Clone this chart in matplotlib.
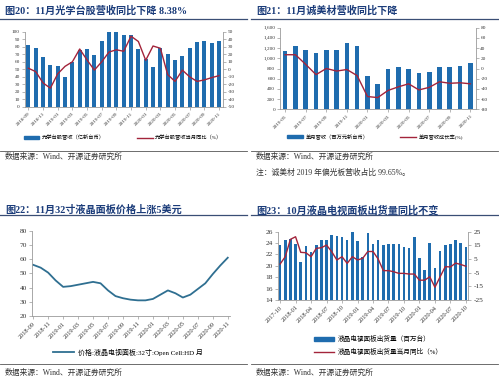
import matplotlib
matplotlib.use('Agg')
import matplotlib.pyplot as plt
from matplotlib.patches import Patch
from matplotlib.lines import Line2D
from matplotlib.ticker import FuncFormatter
import numpy as np

plt.rcParams['font.family'] = ['Liberation Serif', 'Noto Sans CJK SC', 'DejaVu Sans']
plt.rcParams['axes.unicode_minus'] = False

# ---------------- data ----------------
# Chart 1: optical stocks revenue (2018-09 .. 2020-11)
c1_ticks = ['2018-09', '2018-11', '2019-01', '2019-03', '2019-05', '2019-07', '2019-09',
            '2019-11', '2020-01', '2020-03', '2020-05', '2020-07', '2020-09', '2020-11']
c1_revenue = [82, 78, 66, 56, 55, 40, 60, 76, 77, 69, 88, 100, 100, 96, 95, 77, 64,
              53, 78, 70, 63, 68, 79, 86, 88, 85, 87]
c1_yoy = [1.5, -3, -18, -25, -6, 4, 10, 27, 12.5, -1, 10, 23, 26, 24, 44, 37, 12,
          31, 28, -7, -16, -1, -10, -16, -14, -11, -8.38]
c1_labels = ['光学台股营收（亿新台币）', '光学台股营收当月同比（%）']

# Chart 2: 诚美材 monthly revenue (2019-05 .. 2020-11)
c2_ticks = ['2019-05', '2019-07', '2019-09', '2019-11', '2020-01', '2020-03', '2020-05',
            '2020-07', '2020-09', '2020-11']
c2_revenue = [1150, 1240, 1160, 1100, 1170, 1160, 1300, 1250, 650, 500, 800, 830, 800,
              710, 730, 820, 820, 850, 900]
c2_yoy = [27, 27, 8, -12, 0, -5, -2, -14, -55, -57, -43, -36, -30, -42, -37, -26, -29,
          -28, -30]
c2_labels = ['单月营收（百万元新台币）', '单月营收成长率(%)']

# Chart 3: 32" open cell panel price (2018-09 .. 2020-11)
c3_ticks = c1_ticks
c3_price = [56, 54, 50.5, 45, 40.5, 41, 42, 43, 44, 43, 38, 34, 32.5, 31.5, 31, 31,
            32, 35, 38, 36, 33, 35, 39, 43, 49.5, 55.5, 61]
c3_label = '价格:液晶电视面板:32寸:Open Cell:HD 月'

# Chart 4: LCD TV panel shipments (2017-10 .. 2020-10)
c4_ticks = ['2017-10', '2018-01', '2018-04', '2018-07', '2018-10', '2019-01', '2019-04',
            '2019-07', '2019-10', '2020-01', '2020-04', '2020-07', '2020-10']
c4_ship = [23.6, 24.5, 24.7, 23.8, 20.6, 23.5, 22.5, 23.6, 24.6, 24.6, 25.4, 25.2, 25.0,
           24.6, 26.0, 24.4, 21.5, 25.8, 23.8, 24.5, 23.6, 23.8, 23.9, 23.9, 23.3, 23.1,
           25.0, 21.3, 19.2, 24.0, 19.7, 22.6, 23.6, 23.8, 24.6, 24.1, 23.3]
c4_yoy = [1.3, 6.7, 19.4, 21.3, 9.9, 9.6, 6.7, 12.8, 13.3, 15.2, 10.4, 4.3, 6.7, 1.8,
          6.7, 4.3, 5.5, 10.5, 10.5, 5, -3.5, -3.5, -4.3, -5.5, -5.5, -6, -6, -10.5,
          -10.5, -8, -15.7, -8, -0.6, -0.8, 2, 1, -0.3]
c4_labels = ['液晶电视面板出货量（百万台）', '液晶电视面板出货量当月同比（%）']

titles = ['图20：11月光学台股营收同比下降 8.38%', '图21：11月诚美材营收同比下降',
          '图22：11月32寸液晶面板价格上涨5美元', '图23：10月液晶电视面板出货量同比不变']
source = '数据来源：Wind、开源证券研究所'
note = '注：诚美材 2019 年偏光板营收占比 99.65%。'

# ---------------- style ----------------
W, H = 499, 380
fig = plt.figure(figsize=(W / 100, H / 100), dpi=100)
BLUE = '#1f6cae'
RED = '#a3243b'
TEAL = '#2f6f91'
TITLE_C = '#1b3c7a'
SPINE = '#9a9a9a'
TXT = '#333333'


def fx(x):
    return x / W


def fy(y):
    return 1 - y / H


def ax_px(x0, y0, x1, y1):
    return fig.add_axes([x0 / W, 1 - y1 / H, (x1 - x0) / W, (y1 - y0) / H])


def style(ax, fs, left=True, right=False, bottom=True):
    for s in ['top', 'right', 'left', 'bottom']:
        ax.spines[s].set_visible(False)
    for s, v in (('left', left), ('right', right), ('bottom', bottom)):
        if v:
            ax.spines[s].set_visible(True)
            ax.spines[s].set_color(SPINE)
            ax.spines[s].set_linewidth(0.6)
    ax.tick_params(labelsize=fs, length=2, width=0.5, color=SPINE, pad=1.5, labelcolor=TXT)
    ax.set_facecolor('none')


def xlabels(ax, pos, labels, fs):
    ax.set_xticks(pos)
    ax.set_xticklabels(labels, rotation=45, ha='right', rotation_mode='anchor', fontsize=fs)


def hline(x0, x1, y, color, lw):
    fig.add_artist(Line2D([fx(x0), fx(x1)], [fy(y), fy(y)], color=color, lw=lw,
                          transform=fig.transFigure))


# titles, rules, sources
for (tx, ty) in [(5, 11), (256, 11), (5, 210), (256, 210)]:
    pass
tpos = [(5, 11), (256, 11), (5, 210), (256, 210)]
for t, (tx, ty) in zip(titles, tpos):
    fig.text(fx(tx), fy(ty), t, fontsize=7.3, fontweight='bold', color=TITLE_C,
             va='center', ha='left')
hline(0, 247, 18.8, '#3a4e75', 0.9)
hline(251, 498, 18.8, '#3a4e75', 0.9)
hline(0, 247, 215.3, '#3a4e75', 0.9)
hline(251, 498, 215.3, '#3a4e75', 0.9)
hline(0, 247, 150.5, '#555555', 0.6)
hline(251, 498, 150.5, '#555555', 0.6)
hline(0, 247, 364, '#555555', 0.6)
hline(251, 498, 364, '#555555', 0.6)
for (sx, sy) in [(5, 157), (256, 157), (5, 372.5), (256, 372.5)]:
    fig.text(fx(sx), fy(sy), source, fontsize=5.6, color=TXT, va='center', ha='left')
fig.text(fx(256), fy(173), note, fontsize=5.6, color=TXT, va='center', ha='left')

# ---------------- chart 1 ----------------
ax1 = ax_px(24.7, 31.7, 222.7, 107)
x1 = np.arange(len(c1_revenue))
ax1.bar(x1, c1_revenue, width=0.55, color=BLUE)
ax1.set_xlim(-0.5, len(x1) - 0.5)
ax1.set_ylim(0, 100)
ax1.set_yticks(range(0, 101, 10))
style(ax1, 3.8)
xlabels(ax1, x1[::2], c1_ticks, 3.8)
ax1b = ax1.twinx()
ax1b.plot(x1, c1_yoy, color=RED, lw=1.0)
ax1b.set_ylim(-50, 50)
ax1b.set_yticks(range(-50, 51, 10))
style(ax1b, 3.8, left=False, right=True, bottom=False)
fig.legend([Patch(color=BLUE), Line2D([], [], color=RED, lw=1.0)], c1_labels,
           loc='center', bbox_to_anchor=(fx(123), fy(137.5)), ncol=2, frameon=False,
           fontsize=3.8, handlelength=3, handleheight=0.5, columnspacing=6,
           handletextpad=0.5)

# ---------------- chart 2 ----------------
ax2 = ax_px(280, 27.7, 475.5, 109.3)
x2 = np.arange(len(c2_revenue))
ax2.bar(x2, c2_revenue, width=0.45, color=BLUE)
ax2.set_xlim(-0.5, len(x2) - 0.5)
ax2.set_ylim(0, 1600)
ax2.set_yticks(range(0, 1601, 200))
ax2.yaxis.set_major_formatter(FuncFormatter(lambda v, p: f'{int(v):,}'))
style(ax2, 3.8)
xlabels(ax2, x2[::2], c2_ticks, 3.8)
ax2b = ax2.twinx()
ax2b.plot(x2, c2_yoy, color=RED, lw=1.0)
ax2b.set_ylim(-80, 80)
ax2b.set_yticks(range(-80, 81, 20))
style(ax2b, 3.8, left=False, right=True, bottom=False)
fig.legend([Patch(color=BLUE), Line2D([], [], color=RED, lw=1.0)], c2_labels,
           loc='center', bbox_to_anchor=(fx(375), fy(137)), ncol=2, frameon=False,
           fontsize=3.8, handlelength=3, handleheight=0.5, columnspacing=6,
           handletextpad=0.5)

# ---------------- chart 3 ----------------
ax3 = ax_px(31.7, 230.7, 230, 316)
x3 = np.arange(len(c3_price))
ax3.plot(x3, c3_price, color=TEAL, lw=1.3)
ax3.set_xlim(-0.2, len(x3) - 0.7)
ax3.set_ylim(20, 80)
ax3.set_yticks(range(20, 81, 10))
style(ax3, 5.3)
xlabels(ax3, x3[::2], c3_ticks, 4.6)
fig.legend([Line2D([], [], color=TEAL, lw=1.3)], [c3_label], loc='center left',
           bbox_to_anchor=(fx(47), fy(352)), frameon=False, fontsize=5.0,
           handlelength=3, handletextpad=0.6)

# ---------------- chart 4 ----------------
ax4 = ax_px(277.5, 231.7, 468.5, 300)
x4 = np.arange(len(c4_ship))
ax4.bar(x4, c4_ship, width=0.5, color=BLUE)
ax4.set_xlim(-0.5, len(x4) - 0.5)
ax4.set_ylim(14, 26)
ax4.set_yticks(range(14, 27, 2))
style(ax4, 5.3)
xlabels(ax4, x4[::3], c4_ticks, 4.6)
ax4b = ax4.twinx()
ax4b.plot(x4, c4_yoy, color=RED, lw=1.0)
ax4b.set_ylim(-25, 25)
ax4b.set_yticks(range(-25, 26, 10))
style(ax4b, 5.3, left=False, right=True, bottom=False)
fig.legend([Patch(color=BLUE), Line2D([], [], color=RED, lw=1.0)], c4_labels,
           loc='center left', bbox_to_anchor=(fx(308), fy(345)), ncol=1, frameon=False,
           fontsize=4.8, handlelength=3, handleheight=0.6, labelspacing=0.9,
           handletextpad=0.6)

fig.savefig('out.png', dpi=100, facecolor='white')
